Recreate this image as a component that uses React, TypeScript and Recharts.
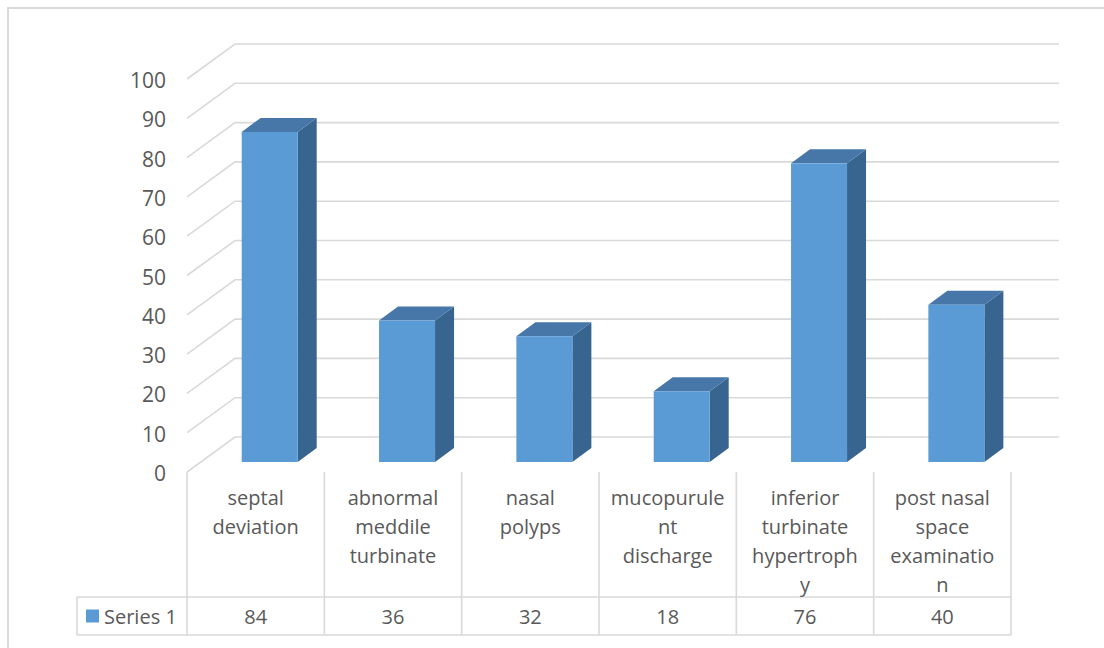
import { BarChart, Bar, XAxis, YAxis, CartesianGrid } from 'recharts';

// chart data
const categories = [
  'septal deviation',
  'abnormal meddile turbinate',
  'nasal polyps',
  'mucopurulent discharge',
  'inferior turbinate hypertrophy',
  'post nasal space examination',
];
// how each category name wraps inside its table cell
const categoryLines = [
  ['septal', 'deviation'],
  ['abnormal', 'meddile', 'turbinate'],
  ['nasal', 'polyps'],
  ['mucopurule', 'nt', 'discharge'],
  ['inferior', 'turbinate', 'hypertroph', 'y'],
  ['post nasal', 'space', 'examinatio', 'n'],
];
const series1 = [84, 36, 32, 18, 76, 40];
const seriesName = 'Series 1';
const yTicks = [0, 10, 20, 30, 40, 50, 60, 70, 80, 90, 100];

const data = categories.map((name, i) => ({ name, value: series1[i] }));

const WIDTH = 1104;
const HEIGHT = 648;
const Y_AXIS_W = 187;
const X_AXIS_H = 176;
const MARGIN = { top: 79, right: 93, left: 0, bottom: 0 };
const PLOT_W = WIDTH - MARGIN.right - Y_AXIS_W;
const COL_W = PLOT_W / categories.length;

// pseudo-3D offsets
const WALL_DX = 48;
const WALL_DY = 35;
const BAR_DX = 13.7;
const BAR_DY = 10;
const DEPTH_DX = 19;
const DEPTH_DY = 14;

const FONT = "'Open Sans', 'Noto Sans', sans-serif";
const TEXT = '#595959';
const LINE = '#d9d9d9';
const FRONT = '#5b9bd5';
const TOP = '#4677a8';
const SIDE = '#386590';

// gridline: front-left edge, side wall diagonal, then back wall
const GridLine = (props: any) => {
  const { x1, x2, y1 } = props;
  const pts = `${x1},${y1} ${x1 + WALL_DX},${y1 - WALL_DY} ${x2 + WALL_DX},${y1 - WALL_DY}`;
  return <polyline key={props.key} points={pts} fill="none" stroke={LINE} strokeWidth={1.6} />;
};

const Box3D = (props: any) => {
  const { x, y, width, height } = props;
  if (!height || height <= 0) return <g />;
  const fx = x + BAR_DX;
  const fy = y - BAR_DY;
  const top = `${fx},${fy} ${fx + DEPTH_DX},${fy - DEPTH_DY} ${fx + width + DEPTH_DX},${fy - DEPTH_DY} ${fx + width},${fy}`;
  const side = `${fx + width},${fy} ${fx + width + DEPTH_DX},${fy - DEPTH_DY} ${fx + width + DEPTH_DX},${fy + height - DEPTH_DY} ${fx + width},${fy + height}`;
  return (
    <g>
      <polygon points={side} fill={SIDE} />
      <polygon points={top} fill={TOP} />
      <rect x={fx} y={fy} width={width} height={height} fill={FRONT} />
    </g>
  );
};

const YTick = (props: any) => {
  const { x, y, payload } = props;
  return (
    <text x={x - 21} y={y + 1} textAnchor="end" dominantBaseline="central" fill={TEXT} fontSize={21} fontFamily={FONT}>
      {payload.value}
    </text>
  );
};

// each x tick draws one column of the data table underneath the plot
const TableColumn = (props: any) => {
  const { x, y, payload } = props;
  const i = payload.index;
  const left = x - COL_W / 2;
  const right = x + COL_W / 2;
  const rowTop = y + 125;
  const rowBottom = y + 163;
  const lines = categoryLines[i] || [payload.value];
  return (
    <g>
      <line x1={left} y1={y} x2={left} y2={rowBottom} stroke={LINE} strokeWidth={1.6} />
      {i === categories.length - 1 && (
        <line x1={right} y1={y} x2={right} y2={rowBottom} stroke={LINE} strokeWidth={1.6} />
      )}
      <line x1={left} y1={rowTop} x2={right} y2={rowTop} stroke={LINE} strokeWidth={1.6} />
      <line x1={left} y1={rowBottom} x2={right} y2={rowBottom} stroke={LINE} strokeWidth={1.6} />
      {lines.map((t, k) => (
        <text key={k} x={x} y={y + 25 + k * 29.3} textAnchor="middle" dominantBaseline="central" fill={TEXT} fontSize={20} fontFamily={FONT}>
          {t}
        </text>
      ))}
      <text x={x} y={(rowTop + rowBottom) / 2} textAnchor="middle" dominantBaseline="central" fill={TEXT} fontSize={20} fontFamily={FONT}>
        {series1[i]}
      </text>
      {i === 0 && (
        <g>
          <line x1={left - 110} y1={rowTop} x2={left} y2={rowTop} stroke={LINE} strokeWidth={1.6} />
          <line x1={left - 110} y1={rowBottom} x2={left} y2={rowBottom} stroke={LINE} strokeWidth={1.6} />
          <line x1={left - 110} y1={rowTop} x2={left - 110} y2={rowBottom} stroke={LINE} strokeWidth={1.6} />
          <rect x={left - 101} y={(rowTop + rowBottom) / 2 - 6.5} width={13} height={13} fill={FRONT} />
          <text x={left - 83} y={(rowTop + rowBottom) / 2} dominantBaseline="central" fill={TEXT} fontSize={20} fontFamily={FONT}>
            {seriesName}
          </text>
        </g>
      )}
    </g>
  );
};

export default function App() {
  return (
    <div style={{ position: 'absolute', left: 0, top: 0, width: WIDTH, height: HEIGHT, overflow: 'hidden', background: '#fff' }}>
      <div
        style={{
          position: 'absolute',
          left: 7,
          top: 7,
          width: WIDTH + 20,
          height: HEIGHT + 20,
          borderLeft: `2px solid ${LINE}`,
          borderTop: `2px solid ${LINE}`,
        }}
      />
      <div style={{ position: 'absolute', left: 0, top: 0 }}>
        <BarChart width={WIDTH} height={HEIGHT} data={data} margin={MARGIN} barSize={56}>
          <CartesianGrid horizontal={GridLine} vertical={false} />
          <XAxis
            dataKey="name"
            height={X_AXIS_H}
            interval={0}
            axisLine={false}
            tickLine={false}
            tickSize={0}
            tickMargin={0}
            tick={<TableColumn />}
          />
          <YAxis
            width={Y_AXIS_W}
            domain={[0, 100]}
            ticks={yTicks}
            axisLine={false}
            tickLine={false}
            tickSize={0}
            tickMargin={0}
            tick={<YTick />}
          />
          <Bar dataKey="value" isAnimationActive={false} shape={<Box3D />} />
        </BarChart>
      </div>
    </div>
  );
}
